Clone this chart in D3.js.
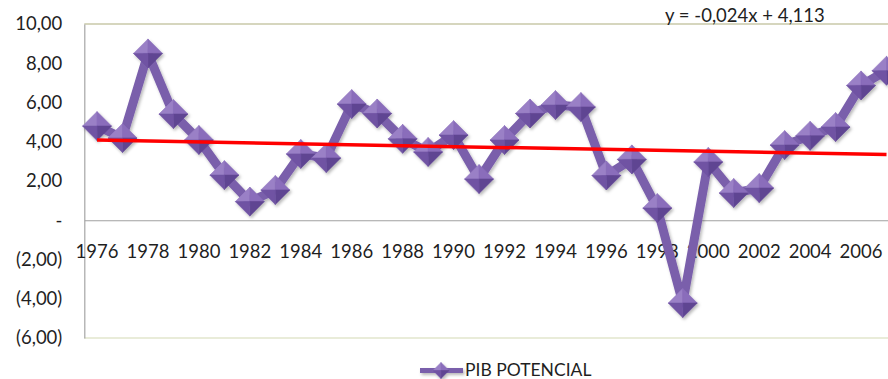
<!DOCTYPE html>
<html>
<head>
<meta charset="utf-8">
<script src="https://cdn.jsdelivr.net/npm/d3@7/dist/d3.min.js"></script>
<style>
  html, body { margin: 0; padding: 0; background: #fff; }
  svg { display: block; }
  text { font-family: Lato, "Open Sans", sans-serif; fill: #1f1f1f; }
</style>
</head>
<body>
<svg id="chart" width="888" height="379"></svg>
<script>
// Potential GDP growth by year (%)
const years = d3.range(1976, 2008);
const pibPotencial = [
  4.80, 4.19, 8.50, 5.41, 4.09, 2.30, 0.95, 1.54, 3.38, 3.17,
  5.92, 5.44, 4.15, 3.48, 4.34, 2.10, 4.09, 5.44, 5.87, 5.77,
  2.28, 3.10, 0.62, -4.22, 2.97, 1.39, 1.64, 3.83, 4.30, 4.75,
  6.87, 7.62
];
const yTicks = [-6, -4, -2, 0, 2, 4, 6, 8, 10];
const xTickYears = years.filter(y => y % 2 === 0 && y <= 2006);
// Linear trend: y = -0,024x + 4,113 (x = 1 .. n)
const trendSlope = -0.024;
const trendIntercept = 4.113;
const seriesName = "PIB POTENCIAL";
const equationLabel = "y = -0,024x + 4,113";

const svg = d3.select("#chart");
const plot = { left: 84.3, top: 24, bottom: 338, step: 25.467 };

const x = d3.scaleBand()
  .domain(years)
  .range([plot.left, plot.left + plot.step * years.length]);
const y = d3.scaleLinear().domain([-6, 10]).range([plot.bottom, plot.top]);
const cx = yr => x(yr) + x.bandwidth() / 2;

const fmt = v => {
  if (v === 0) return "-";
  const s = Math.abs(v).toFixed(2).replace(".", ",");
  return v < 0 ? "(" + s + ")" : s;
};

// soft drop shadow for the series
const defs = svg.append("defs");
const sh = defs.append("filter").attr("id", "shadow")
  .attr("x", "-20%").attr("y", "-20%").attr("width", "140%").attr("height", "140%");
sh.append("feDropShadow").attr("dx", 1.5).attr("dy", 2).attr("stdDeviation", 1.6)
  .attr("flood-color", "#000").attr("flood-opacity", 0.28);

// plot area frame
svg.append("line")
  .attr("x1", plot.left).attr("x2", 888)
  .attr("y1", plot.top).attr("y2", plot.top)
  .attr("stroke", "#d6d6be").attr("stroke-width", 2);
svg.append("line")
  .attr("x1", plot.left).attr("x2", 888)
  .attr("y1", plot.bottom).attr("y2", plot.bottom)
  .attr("stroke", "#e2e6cc").attr("stroke-width", 1.5);

// value axis
const yAxis = svg.append("g")
  .attr("transform", `translate(${plot.left},0)`)
  .call(d3.axisLeft(y).tickValues(yTicks).tickFormat(fmt).tickSize(0).tickPadding(22));
yAxis.select(".domain").attr("stroke", "#a6a6a6").attr("stroke-width", 1.2);
yAxis.selectAll("text")
  .attr("font-size", 18.5).attr("font-family", "Lato, sans-serif").attr("fill", "#1f1f1f");

// category axis at zero
const xAxis = svg.append("g")
  .attr("transform", `translate(0,${y(0)})`)
  .call(d3.axisBottom(x).tickValues(xTickYears).tickSize(0).tickPadding(0));
xAxis.select(".domain").attr("stroke", "#a0a0a0").attr("stroke-width", 1.2);
xAxis.selectAll("text")
  .attr("y", 38).attr("dy", 0)
  .attr("font-size", 18.5).attr("font-family", "Lato, sans-serif").attr("fill", "#1f1f1f");

// series line
const line = d3.line().x((d, i) => cx(years[i])).y(d => y(d));
const series = svg.append("g").attr("filter", "url(#shadow)");
series.append("path")
  .datum(pibPotencial)
  .attr("d", line)
  .attr("fill", "none")
  .attr("stroke", "#7a5fab")
  .attr("stroke-width", 9)
  .attr("stroke-linejoin", "round");

// pyramid-shaded diamond markers
function diamond(g, px, py, r) {
  const T = [px, py - r], R = [px + r, py], B = [px, py + r], L = [px - r, py], C = [px, py];
  const facets = [
    { pts: [C, L, T], fill: "#9a80c6" },
    { pts: [C, T, R], fill: "#8a6dbb" },
    { pts: [C, R, B], fill: "#5f4592" },
    { pts: [C, B, L], fill: "#6f53a3" }
  ];
  facets.forEach(f => g.append("polygon")
    .attr("points", f.pts.map(p => p.join(",")).join(" "))
    .attr("fill", f.fill)
    .attr("stroke", f.fill).attr("stroke-width", 0.6));
}
pibPotencial.forEach((v, i) => diamond(series, cx(years[i]), y(v), 14.5));

// trend line
const n = years.length;
svg.append("line")
  .attr("x1", cx(years[0])).attr("y1", y(trendSlope * 1 + trendIntercept))
  .attr("x2", cx(years[n - 1])).attr("y2", y(trendSlope * n + trendIntercept))
  .attr("stroke", "#ff0000").attr("stroke-width", 3.5);

// trend equation
svg.append("text")
  .attr("x", 665).attr("y", 22)
  .attr("font-size", 18.5)
  .text(equationLabel);

// legend
const lg = svg.append("g").attr("filter", "url(#shadow)");
lg.append("line")
  .attr("x1", 420).attr("x2", 463).attr("y1", 370.5).attr("y2", 370.5)
  .attr("stroke", "#7a5fab").attr("stroke-width", 5);
diamond(lg, 441, 370.5, 8);
svg.append("text")
  .attr("x", 465).attr("y", 376)
  .attr("font-size", 17.5)
  .text(seriesName);
</script>
</body>
</html>
